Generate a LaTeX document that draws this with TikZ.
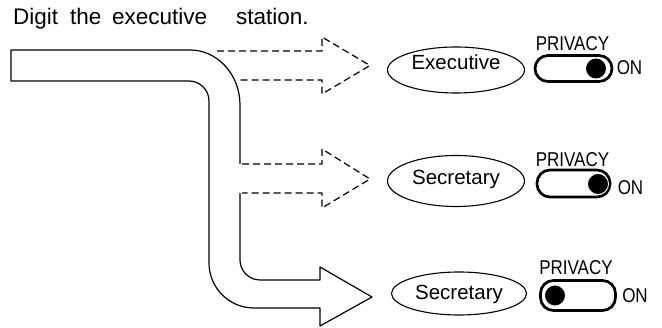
\documentclass[tikz,border=0pt]{standalone}
\usepackage{fontspec}
\usepackage{graphicx}
\setmainfont{Liberation Sans}
\usetikzlibrary{shapes.geometric}
\newcommand{\titlefont}{\fontsize{22.5}{27}\selectfont}
\newcommand{\labelfont}{\fontsize{20.5}{24}\selectfont}
\newcommand{\narrowtxt}[1]{\scalebox{0.85}[1]{\fontsize{20}{24}\selectfont #1}}
\tikzset{
  outline/.style={draw=black,line width=1.2pt,line join=round},
  dashline/.style={draw=black,line width=1.2pt,dash pattern=on 7pt off 4pt,line join=round},
  station/.style={draw=black,ellipse,line width=1.1pt,inner sep=0pt},
  stationtext/.style={anchor=base,inner sep=0pt},
  titletext/.style={anchor=base west,inner sep=0pt},
  pill/.style={draw=black,line width=2.7pt,rectangle,rounded corners=13pt,inner sep=0pt},
  knob/.style={circle,fill=black,draw=white,line width=0.8pt,inner sep=0pt,minimum size=21pt},
  swtext/.style={anchor=base,inner sep=0pt}
}
\begin{document}
\begin{tikzpicture}[x=1pt,y=-1pt]
\useasboundingbox (0,0) rectangle (662,328);

% title
\node[titletext] (t1) at (13,25) {\titlefont Digit};
\node[titletext] (t2) at (70,25) {\titlefont the};
\node[titletext] (t3) at (112,25) {\titlefont executive};
\node[titletext] (t4) at (236,25) {\titlefont station.};

% main bent arrow (solid)
\draw[outline] (240,164) -- (240,105)
  .. controls (240,74.6) and (217.6,50) .. (190,50)
  -- (11,50) -- (11,81) -- (189,81)
  .. controls (200,81) and (209,90) .. (209,101)
  -- (209,263)
  .. controls (209,287.8) and (229.2,308) .. (254,308)
  -- (320,308) -- (320,326) -- (372,297) -- (320,267) -- (320,280)
  -- (260,280)
  .. controls (249,280) and (240,271) .. (240,260)
  -- (240,193);

% dashed arrow to executive
\draw[dashline] (217,51) -- (322,51) -- (322,37) -- (370,65.5) -- (322,94) -- (322,80) -- (238,80);
% dashed arrow to middle secretary
\draw[dashline] (242,164) -- (322,164) -- (322,149) -- (370,179) -- (322,208) -- (322,193) -- (242,193);

% stations
\node[station,minimum width=137pt,minimum height=46pt] (exec) at (456,70) {};
\node[stationtext] (exectext) at (456,69.5) {\labelfont Executive};
\node[station,minimum width=137pt,minimum height=51pt] (sec1) at (456,181) {};
\node[stationtext] (sec1text) at (456,185) {\labelfont Secretary};
\node[station,minimum width=135pt,minimum height=43pt] (sec2) at (459,293.5) {};
\node[stationtext] (sec2text) at (459,299.5) {\labelfont Secretary};

% switches
\node[pill,minimum width=77pt,minimum height=26pt] (sw1) at (573.5,68.5) {};
\node[knob] (k1) at (596,68.5) {};
\node[swtext] (p1) at (572.5,51) {\narrowtxt{PRIVACY}};
\node[swtext] (on1) at (629.5,75) {\narrowtxt{ON}};

\node[pill,minimum width=73pt,minimum height=27pt] (sw2) at (573.5,183.5) {};
\node[knob] (k2) at (598,184) {};
\node[swtext] (p2) at (572.5,167) {\narrowtxt{PRIVACY}};
\node[swtext] (on2) at (630.5,195) {\narrowtxt{ON}};

\node[pill,minimum width=75pt,minimum height=30pt] (sw3) at (578,295.5) {};
\node[knob] (k3) at (555,295.5) {};
\node[swtext] (p3) at (576,275) {\narrowtxt{PRIVACY}};
\node[swtext] (on3) at (635,303) {\narrowtxt{ON}};
\end{tikzpicture}
\end{document}
